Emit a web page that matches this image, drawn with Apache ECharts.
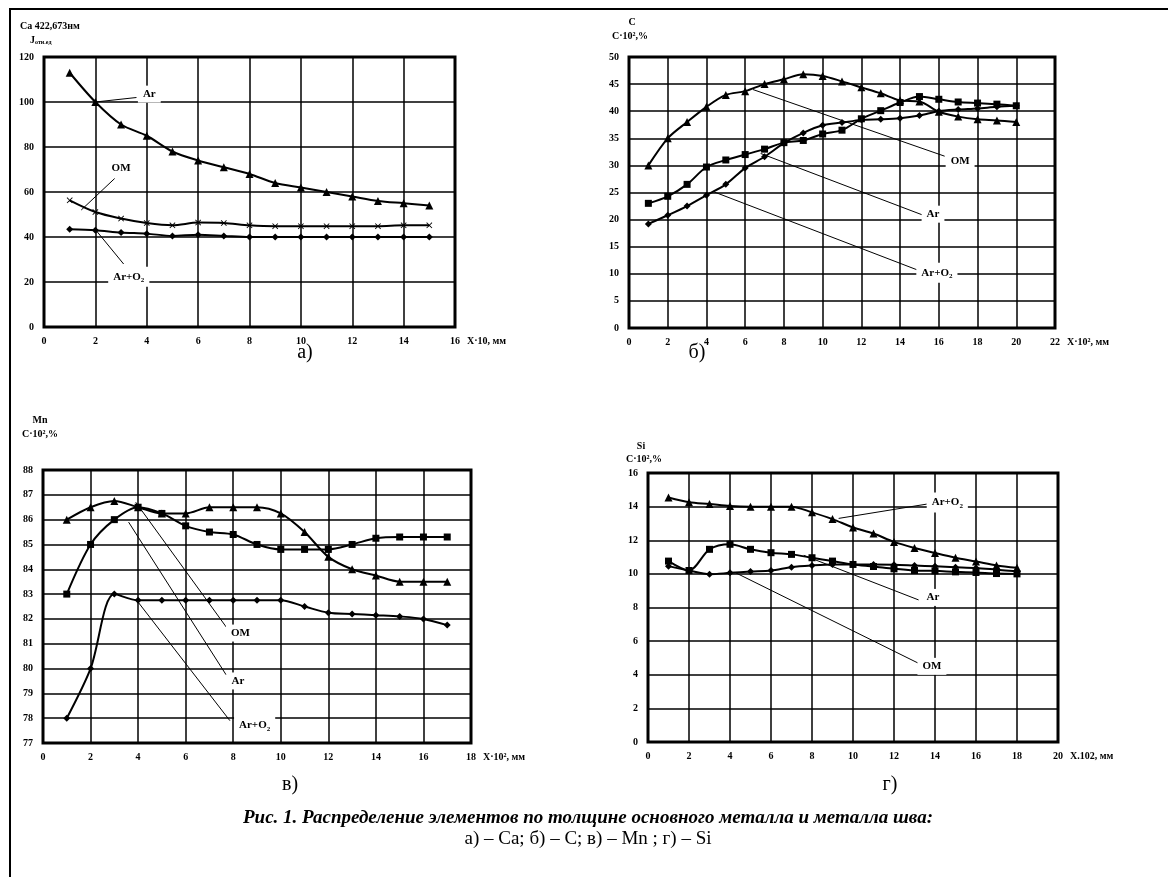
<!DOCTYPE html>
<html><head><meta charset="utf-8">
<script src="https://cdn.jsdelivr.net/npm/echarts@6/dist/echarts.min.js"></script>
<style>html,body{margin:0;padding:0;background:#fff}#c{width:1168px;height:877px}</style>
</head><body><div id="c"></div>
<script>
// ---- data ----
const xCa = [1,2,3,4,5,6,7,8,9,10,11,12,13,14,15];
const caAr   = [113,100,90,85,78,74,71,68,64,62,60,58,56,55,54];
const caOM   = [56.3,51.1,48.2,46.2,45.2,46.4,46.2,45.2,44.8,44.8,44.8,44.8,44.8,45.2,45.2];
const caArO2 = [43.4,43,42,41.5,40.5,41,40.5,40,40,40,40,40,40,40,40];

const xC = [1,2,3,4,5,6,7,8,9,10,11,12,13,14,15,16,17,18,19,20];
const cOM   = [30,35,38,40.8,43,43.7,45,45.9,46.8,46.5,45.5,44.4,43.3,42,41.8,39.9,39,38.5,38.3,38];
const cAr   = [23,24.3,26.5,29.7,31,32,33,34.2,34.6,35.8,36.5,38.6,40.1,41.6,42.7,42.2,41.7,41.5,41.3,41];
const cArO2 = [19.2,20.8,22.5,24.5,26.5,29.5,31.6,34.1,36,37.4,37.9,38.4,38.5,38.7,39.2,40,40.3,40.5,40.8,41];

const xMn = [1,2,3,4,5,6,7,8,9,10,11,12,13,14,15,16,17];
const mnOM   = [86,86.5,86.75,86.5,86.25,86.25,86.5,86.5,86.5,86.25,85.5,84.5,84,83.75,83.5,83.5,83.5];
const mnAr   = [83,85,86,86.5,86.25,85.75,85.5,85.4,85,84.8,84.8,84.8,85,85.25,85.3,85.3,85.3];
const mnArO2 = [78,80,83,82.75,82.75,82.75,82.75,82.75,82.75,82.75,82.5,82.25,82.2,82.15,82.1,82,81.75];

const xSi = [1,2,3,4,5,6,7,8,9,10,11,12,13,14,15,16,17,18];
const siArO2 = [14.54,14.26,14.16,14.04,14,14,14,13.66,13.26,12.76,12.4,11.9,11.54,11.24,10.96,10.74,10.5,10.36];
const siAr   = [10.76,10.2,11.46,11.76,11.46,11.26,11.16,10.96,10.76,10.56,10.44,10.3,10.2,10.18,10.12,10.08,10.02,10.0];
const siOM   = [10.46,10.2,9.98,10.06,10.14,10.2,10.4,10.5,10.56,10.56,10.56,10.55,10.5,10.45,10.4,10.35,10.25,10.15];

// axis ranges [min,max,interval]
const xRanges = [[0,16,2],[0,22,2],[0,18,2],[0,20,2]];
const yRanges = [[0,120,20],[0,50,5],[77,88,1],[0,16,2]];
const xNames = ['X·10, мм','X·10², мм','X·10², мм','X.102, мм'];

// annotations: [grid, x1,y1, x2,y2, label, labelX, labelY]
const notes = [
  [0, 2,100, 3.6,102, 'Ar', 4.1,103.5],
  [0, 1.45,52, 2.75,66, 'OM', 3.0,70.8],
  [0, 1.95,44, 3.1,28, 'Ar+O2', 3.3,22.3],
  [1, 6.4,44, 16.3,31.7, 'OM', 17.1,30.8],
  [1, 6.8,32.2, 15.2,20.8, 'Ar', 15.7,21],
  [1, 4.4,25.1, 14.9,10.7, 'Ar+O2', 15.9,10.2],
  [2, 3.9,86.7, 7.8,81.55, 'OM', 8.3,81.43],
  [2, 3.6,85.9, 7.7,79.75, 'Ar', 8.2,79.5],
  [2, 3.9,82.8, 7.86,77.9, 'Ar+O2', 8.9,77.7],
  [3, 9.3,13.3, 13.6,14.15, 'Ar+O2', 14.6,14.25],
  [3, 7.6,11.1, 13.2,8.45, 'Ar', 13.9,8.6],
  [3, 4.3,10.05, 13.2,4.68, 'OM', 13.85,4.5]
];

// ---- chart ----
const FF = '"Liberation Serif", "Times New Roman", serif';
const grids = [
  {left:44, top:57, width:411, height:270},
  {left:629, top:57, width:426, height:271},
  {left:43, top:470, width:428, height:273},
  {left:648, top:473, width:410, height:269}
];
const crossPath = 'path://M0,1L1,0L5,4L9,0L10,1L6,5L10,9L9,10L5,6L1,10L0,9L4,5Z';

function mkSeries(gi, xs, ys, sym, size){
  return {type:'line', xAxisIndex:gi, yAxisIndex:gi, smooth:0.3,
    data: xs.map((x,i)=>[x,ys[i]]), symbol:sym, symbolSize:size, showSymbol:true,
    lineStyle:{color:'#000', width:2}, itemStyle:{color:'#000'}, z:5};
}

const option = {
  animation:false,
  backgroundColor:'#fff',
  grid: grids.map(g=>Object.assign({show:true, borderColor:'#000', borderWidth:3, backgroundColor:'#fff'}, g)),
  xAxis: xRanges.map((r,i)=>({type:'value', gridIndex:i, min:r[0], max:r[1], interval:r[2],
    axisLine:{show:false}, axisTick:{show:false},
    splitLine:{show:true, lineStyle:{color:'#000', width:1.5}},
    axisLabel:{color:'#000', fontFamily:FF, fontWeight:'bold', fontSize:10, margin:9},
    name:xNames[i], nameLocation:'end', nameGap:12,
    nameTextStyle:{color:'#000', fontFamily:FF, fontWeight:'bold', fontSize:10, verticalAlign:'top', align:'left', padding:[9,0,0,0]}
  })),
  yAxis: yRanges.map((r,i)=>({type:'value', gridIndex:i, min:r[0], max:r[1], interval:r[2],
    axisLine:{show:false}, axisTick:{show:false},
    splitLine:{show:true, lineStyle:{color:'#000', width:1.5}},
    axisLabel:{color:'#000', fontFamily:FF, fontWeight:'bold', fontSize:10, margin:10}
  })),
  series: [
    mkSeries(0, xCa, caAr, 'triangle', 8),
    mkSeries(0, xCa, caOM, crossPath, 6),
    mkSeries(0, xCa, caArO2, 'diamond', 7),
    mkSeries(1, xC, cOM, 'triangle', 8),
    mkSeries(1, xC, cAr, 'rect', 7),
    mkSeries(1, xC, cArO2, 'diamond', 7),
    mkSeries(2, xMn, mnOM, 'triangle', 8),
    mkSeries(2, xMn, mnAr, 'rect', 7),
    mkSeries(2, xMn, mnArO2, 'diamond', 7),
    mkSeries(3, xSi, siArO2, 'triangle', 8),
    mkSeries(3, xSi, siAr, 'rect', 7),
    mkSeries(3, xSi, siOM, 'diamond', 7)
  ]
};

const chart = echarts.init(document.getElementById('c'), null, {renderer:'canvas'});
chart.setOption(option);

const bold = (s)=>'bold '+s+'px '+FF;
function txt(x,y,text,font,align,extra){
  return {type:'text', x:x, y:y, z:20, style:Object.assign({text:text, font:font, fill:'#000', align:align||'center', verticalAlign:'middle'}, extra||{})};
}
const richLbl = {
  a:{font:bold(11), fill:'#000'},
  s:{font:bold(7), fill:'#000', padding:[7,0,0,0]}
};
const G = [];
// outer frame
G.push({type:'rect', shape:{x:10, y:9, width:1170, height:880}, style:{fill:'none', stroke:'#000', lineWidth:2}, z:1, silent:true});
// titles
G.push(txt(20,26,'Ca 422,673нм',bold(10),'left'));
G.push(txt(30,40,'{j|J}{s|отн.ед}',bold(10),'left',{rich:{j:{font:bold(10),fill:'#000'}, s:{font:bold(6),fill:'#000',padding:[4,0,0,0]}}}));
G.push(txt(632,22,'C',bold(10)));
G.push(txt(630,36,'C·10²,%',bold(10)));
G.push(txt(40,420,'Mn',bold(10)));
G.push(txt(40,434,'C·10²,%',bold(10)));
G.push(txt(641,446,'Si',bold(10)));
G.push(txt(644,459,'C·10²,%',bold(10)));
// panel letters
const pFont = '20px '+FF;
G.push(txt(305,353,'а)',pFont));
G.push(txt(697,353,'б)',pFont));
G.push(txt(290,785,'в)',pFont));
G.push(txt(890,785,'г)',pFont));
// caption
G.push(txt(588,818,'Рис. 1. Распределение элементов по толщине основного металла и металла шва:','italic bold 19px '+FF));
G.push(txt(588,839,'а) – Са; б) – С; в) – Mn ; г) – Si','19px '+FF));
// annotations
notes.forEach(n=>{
  const p1 = chart.convertToPixel({gridIndex:n[0]}, [n[1],n[2]]);
  const p2 = chart.convertToPixel({gridIndex:n[0]}, [n[3],n[4]]);
  const pl = chart.convertToPixel({gridIndex:n[0]}, [n[6],n[7]]);
  G.push({type:'line', shape:{x1:p1[0],y1:p1[1],x2:p2[0],y2:p2[1]}, style:{stroke:'#000', lineWidth:1}, z:18, silent:true});
  const t = n[5]==='Ar+O2' ? '{a|Ar+O}{s|2}' : '{a|'+n[5]+'}';
  G.push(txt(pl[0],pl[1],t,bold(11),'center',{rich:richLbl, backgroundColor:'#fff', padding:[3,5]}));
});
chart.setOption({graphic:G});
</script>
</body></html>
